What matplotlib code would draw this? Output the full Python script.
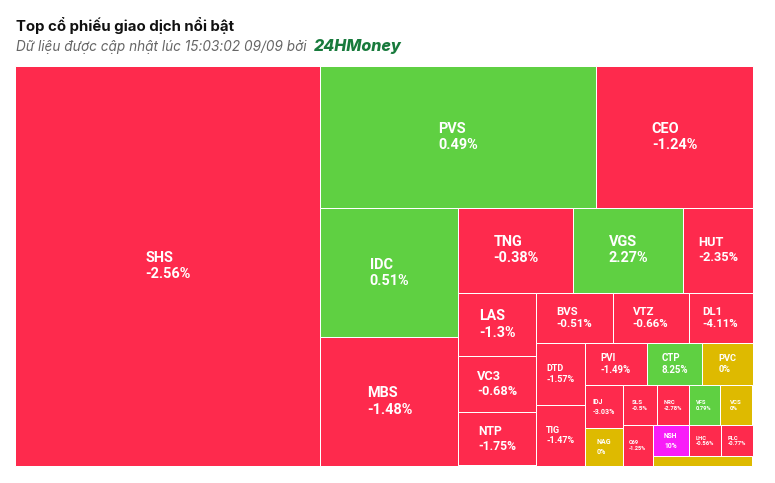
import matplotlib
matplotlib.use("Agg")
import matplotlib.pyplot as plt
from matplotlib.patches import Rectangle

plt.rcParams['font.family'] = ['Roboto', 'DejaVu Sans']

# ---------------- data ----------------
title = "Top cổ phiếu giao dịch nổi bật"
subtitle = "Dữ liệu được cập nhật lúc 15:03:02 09/09 bởi"
brand = "24HMoney"

tickers = ["SHS", "PVS", "CEO", "IDC", "MBS", "TNG", "VGS", "HUT", "LAS", "VC3",
           "NTP", "BVS", "VTZ", "DL1", "DTD", "TIG", "PVI", "CTP", "PVC", "IDJ",
           "NAG", "SLS", "NRC", "VFS", "VCS", "C69", "NSH", "LHC", "PLC", "KHAC"]
# relative trading value (size of each cell)
values = [122.05, 39.19, 22.15, 17.87, 17.66, 9.75, 9.33, 5.85, 4.91, 4.33,
          4.11, 3.86, 3.81, 3.21, 3.05, 2.95, 2.64, 2.38, 2.13, 1.63,
          1.41, 1.36, 1.28, 1.24, 1.32, 1.20, 1.13, 0.99, 0.98, 0.90]
# price change, %
changes = [-2.56, 0.49, -1.24, 0.51, -1.48, -0.38, 2.27, -2.35, -1.3, -0.68,
           -1.75, -0.51, -0.66, -4.11, -1.57, -1.47, -1.49, 8.25, 0, -3.03,
           0, -0.5, -2.78, 0.79, 0, -1.25, 10, -0.56, -0.77, 0]

# ---------------- colours ----------------
RED = "#fe2a4d"
GREEN = "#5fd042"
YELLOW = "#deba00"
CEIL = "#f81cf8"


def color_for(c):
    if c >= 9.9:
        return CEIL
    if c > 0:
        return GREEN
    if c < 0:
        return RED
    return YELLOW


# ---------------- squarified layout (alternating direction) ----------------
class Group:
    def __init__(self, h, w, d, plot):
        self.height = h
        self.width = w
        self.plot = plot
        self.direction = d
        self.total = 0.0
        self.nW = 0.0
        self.lW = 0.0
        self.nH = 0.0
        self.lH = 0.0
        self.el = []
        self.lp = dict(total=None, lH=0.0, nH=0.0, lW=0.0, nW=0.0, nR=0.0, lR=0.0)

    @staticmethod
    def _div(a, b):
        if a is None or b == 0 or b != b:
            return float('nan')
        return a / b

    @staticmethod
    def _ar(a, b):
        if a != a or b != b or a == 0 or b == 0:
            return float('nan')
        return max(a / b, b / a)

    def add(self, v):
        lp = self.lp
        lp['total'] = self.el[-1] if self.el else None
        self.total += v
        if self.direction == 0:
            self.lW = self.nW
            lp['lH'] = self._div(lp['total'], self.lW)
            lp['lR'] = self._ar(self.lW, lp['lH'])
            self.nW = self.total / self.height
            lp['nH'] = self._div(lp['total'], self.nW)
            lp['nR'] = self._ar(self.nW, lp['nH'])
        else:
            self.lH = self.nH
            lp['lW'] = self._div(lp['total'], self.lH)
            lp['lR'] = self._ar(lp['lW'], self.lH)
            self.nH = self.total / self.width
            lp['nW'] = self._div(lp['total'], self.nH)
            lp['nR'] = self._ar(lp['nW'], self.nH)
        self.el.append(v)

    def reset(self):
        self.nW = 0.0
        self.lW = 0.0
        self.el = []
        self.total = 0.0


def layout(vals, x0, y0, w0, h0):
    tot = sum(vals)
    plot = dict(x=x0, y=y0)
    g = Group(h0, w0, 0, plot)
    out = []

    def calc(last):
        end = len(g.el) - 1
        gW, gH = g.lW, g.lH
        keep = None
        if last:
            gW, gH = g.nW, g.nH
        else:
            keep = g.el[end]
        for i, p in enumerate(g.el):
            if last or i < end:
                if g.direction == 0:
                    pW = gW
                    pH = p / pW
                else:
                    pH = gH
                    pW = p / pH
                out.append((plot['x'], plot['y'], pW, pH))
                if g.direction == 0:
                    plot['y'] += pH
                else:
                    plot['x'] += pW
        g.reset()
        if g.direction == 0:
            g.width -= gW
        else:
            g.height -= gH
        plot['y'] = y0 + (h0 - g.height)
        plot['x'] = x0 + (w0 - g.width)
        g.direction = 1 - g.direction
        if not last:
            g.add(keep)

    n = len(vals)
    for i, v in enumerate(vals):
        g.add(w0 * h0 * v / tot)
        if g.lp['nR'] > g.lp['lR']:
            calc(False)
        if i == n - 1:
            calc(True)
    return out


# ---------------- figure ----------------
W, H = 775, 483
fig = plt.figure(figsize=(W / 100, H / 100), dpi=100)
ax = fig.add_axes([0, 0, 1, 1])
ax.set_xlim(0, W)
ax.set_ylim(H, 0)
ax.axis('off')

PX = 0.72  # points per pixel at 100 dpi

rects = layout(values, 15, 66, 737.5, 399.5)
for (x, y, w, h), t, v, c in zip(rects, tickers, values, changes):
    ax.add_patch(Rectangle((x, y), w, h, facecolor=color_for(c),
                           edgecolor='white', linewidth=1.0 * PX, zorder=1))
    fs = min(14.5, w / 5.4, h / 4.4)
    if fs < 5:
        continue
    ax.text(x + w / 2, y + h / 2, f"{t}\n{c:g}%", ha='center', va='center',
            multialignment='left', color='white', fontweight='bold',
            fontsize=fs * PX, linespacing=1.2, zorder=3)

# titles
ax.text(16, 31, title, fontsize=15 * PX, fontweight='bold', color='#111111',
        ha='left', va='baseline', family=['Inter', 'Roboto', 'DejaVu Sans'])
t1 = ax.text(16, 51.5, subtitle, fontsize=13.6 * PX, fontstyle='italic',
             color='#666666', ha='left', va='baseline',
             family=['Inter', 'Roboto', 'DejaVu Sans'])
fig.canvas.draw()
bb = t1.get_window_extent(renderer=fig.canvas.get_renderer())
inv = ax.transData.inverted()
x_end = inv.transform((bb.x1, bb.y0))[0]
ax.text(x_end + 7, 51.5, brand, fontsize=16 * PX, fontweight='heavy',
        fontstyle='italic', color='#187a3c', ha='left', va='baseline',
        family=['Inter', 'Roboto', 'DejaVu Sans'])

fig.savefig("out.png", dpi=100)
